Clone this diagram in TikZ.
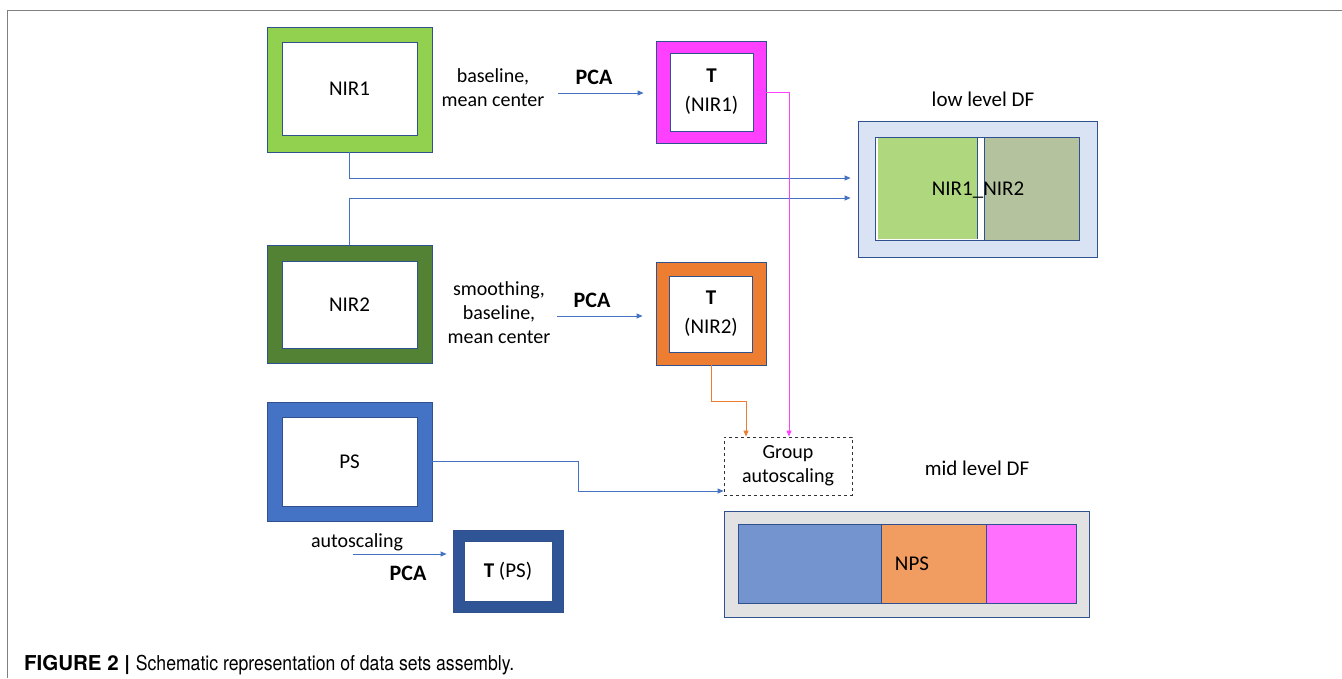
\documentclass[tikz,border=0pt]{standalone}
\usepackage{graphicx}
\usepackage{fontspec}
\setmainfont{Carlito}
\newfontfamily\capfont{TeX Gyre Heros}
\usetikzlibrary{arrows.meta}
\definecolor{bordc}{HTML}{2F528F}
\definecolor{arrc}{HTML}{4472C4}
\definecolor{nirone}{HTML}{92D050}
\definecolor{nirtwo}{HTML}{548235}
\definecolor{psblue}{HTML}{4472C4}
\definecolor{tpsblue}{HTML}{2F5597}
\definecolor{tpink}{HTML}{FF40FF}
\definecolor{torange}{HTML}{ED7D31}
\definecolor{lowfill}{HTML}{DAE3F3}
\definecolor{lowgreen}{HTML}{AED77E}
\definecolor{lowgrey}{HTML}{B4C29E}
\definecolor{midfill}{HTML}{E2E2E2}
\definecolor{midblue}{HTML}{7494D0}
\definecolor{midorange}{HTML}{F19C61}
\definecolor{midpink}{HTML}{FF70FF}
\definecolor{framec}{HTML}{808080}
\begin{document}
\begin{tikzpicture}[x=1pt,y=-1pt,
  outerbox/.style={draw=bordc, line width=0.8pt, inner sep=0pt},
  innerbox/.style={draw=bordc, fill=white, line width=0.8pt, inner sep=0pt, align=center, font=\fontsize{21}{29}\selectfont},
  lbl/.style={align=center, inner sep=0pt, font=\fontsize{20}{24}\selectfont},
  pcalbl/.style={inner sep=0pt, font=\fontsize{22}{26}\selectfont\bfseries},
  conn/.style={draw=arrc, line width=0.9pt},
  arr/.style={conn, -{Triangle[length=6pt,width=5pt]}},
  barrow/.style={line width=0.9pt, -{Triangle[length=6pt,width=5pt]}},
  part/.style={draw=bordc, line width=0.8pt, inner sep=0pt}
]
\useasboundingbox (0,0) rectangle (1342,678);
% frame
\draw[framec, line width=1pt] (7,678) -- (7,10) -- (1342,10);

% NIR1
\node[outerbox, fill=nirone, minimum width=165pt, minimum height=125pt] (nir1o) at (349.5,89.5) {};
\node[innerbox, minimum width=135pt, minimum height=93pt] (nir1) at (349.5,88.5) {NIR1};
% T(NIR1)
\node[outerbox, fill=tpink, minimum width=110pt, minimum height=102pt] (t1o) at (711,92) {};
\node[innerbox, minimum width=83pt, minimum height=78pt] (t1) at (711.5,92) {\textbf{T}\\(NIR1)};
% NIR2
\node[outerbox, fill=nirtwo, minimum width=165pt, minimum height=118pt] (nir2o) at (349.5,304.5) {};
\node[innerbox, minimum width=135pt, minimum height=87pt] (nir2) at (349.5,304.5) {NIR2};
% T(NIR2)
\node[outerbox, fill=torange, minimum width=110pt, minimum height=103pt] (t2o) at (711,313.5) {};
\node[innerbox, minimum width=83pt, minimum height=76pt] (t2) at (711,314) {\textbf{T}\\(NIR2)};
% PS
\node[outerbox, fill=psblue, minimum width=165pt, minimum height=119pt] (pso) at (349.5,461.5) {};
\node[innerbox, minimum width=135pt, minimum height=89pt] (ps) at (349.5,461.5) {PS};
% T(PS)
\node[outerbox, fill=tpsblue, minimum width=110pt, minimum height=82pt] (tpso) at (508,571) {};
\node[innerbox, minimum width=88pt, minimum height=60pt] (tps) at (508,571) {\textbf{T} (PS)};

% labels
\node[lbl] (lab1) at (493,88) {baseline,\\mean center};
\node[pcalbl] (pca1) at (594,77) {PCA};
\node[lbl] (lab2) at (499,313) {smoothing,\\baseline,\\mean center};
\node[pcalbl] (pca2) at (592,300) {PCA};
\node[lbl] (lab3) at (357,542) {autoscaling};
\node[pcalbl] (pca3) at (408,573) {PCA};

\coordinate (a1s) at (558,93);
\coordinate (a2s) at (557,316);
\coordinate (a3s) at (352.6,554);
\draw[arr] (a1s) -- ([xshift=-12pt]t1o.west |- a1s);
\draw[arr] (a2s) -- ([xshift=-13pt]t2o.west |- a2s);
\draw[arr] (a3s) -- ([xshift=-6pt]tpso.west |- a3s);

% group autoscaling
\node[draw=black!80, dashed, line width=0.8pt, minimum width=128pt, minimum height=58pt, inner sep=0pt, align=center, font=\fontsize{20}{24}\selectfont] (grp) at (788,466) {Group\\autoscaling};

% low level DF
\node[lbl, font=\fontsize{21}{25}\selectfont] (lowlab) at (983,99) {low level DF};
\node[outerbox, fill=lowfill, minimum width=239pt, minimum height=136pt] (lowo) at (977.5,189) {};
\node[part, fill=white, minimum width=204pt, minimum height=103pt] (lowin) at (977,188.5) {};
\node[inner sep=0pt, fill=lowgreen, minimum width=100pt, minimum height=101pt] (lowa) at (927.5,188.5) {};
\node[part, fill=lowgrey, minimum width=95pt, minimum height=103pt] (lowb) at (1031.5,188.5) {};
\draw[bordc, line width=0.8pt] (lowa.north east) -- (lowa.south east);
\node[inner sep=0pt, font=\fontsize{21}{25}\selectfont] (lowtxt) at (978,190) {NIR1\_NIR2};

% mid level DF
\node[lbl, font=\fontsize{21}{25}\selectfont] (midlab) at (977,468) {mid level DF};
\node[outerbox, fill=midfill, minimum width=365pt, minimum height=106pt] (mido) at (906.5,564) {};
\node[part, fill=midblue, minimum width=143pt, minimum height=79pt] (mida) at (809.5,563.5) {};
\node[part, fill=midorange, minimum width=105pt, minimum height=79pt] (midb) at (933.5,563.5) {};
\node[part, fill=midpink, minimum width=90pt, minimum height=79pt] (midc) at (1031,563.5) {};
\node[inner sep=0pt, font=\fontsize{21}{25}\selectfont] (midtxt) at (912,564) {NPS};

% connectors
\draw[arr] (nir1o.south) |- ([xshift=-7pt,yshift=11pt]lowo.west);
\draw[arr] (nir2o.north) |- ([xshift=-7pt,yshift=-9pt]lowo.west);
\draw[barrow, tpink] (t1o.east) -| ([xshift=1pt]grp.north);
\draw[barrow, torange] (t2o.south) -- ++(0,36) -| ([xshift=-42pt]grp.north);
\draw[arr] (pso.east) -- ++(146,0) |- ([yshift=-25pt]grp.west);

% caption
\node[anchor=base west, inner sep=0pt, font=\capfont\fontsize{20.5}{24}\selectfont] (cap) at (24,670) {\textbf{FIGURE 2 |} \scalebox{0.86}[1]{Schematic representation of data sets assembly.}};
\end{tikzpicture}
\end{document}
